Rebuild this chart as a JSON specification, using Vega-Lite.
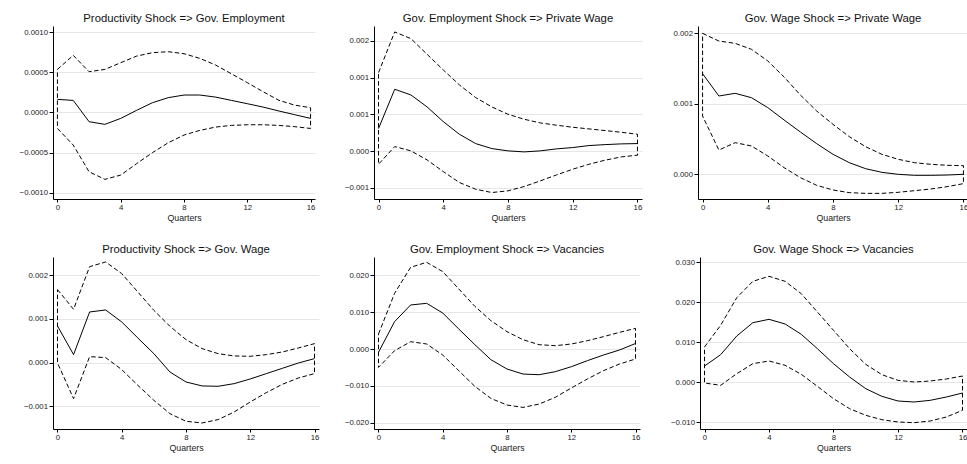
{
  "$schema": "https://vega.github.io/schema/vega-lite/v6.json",
  "padding": {"left": 0, "top": 12, "right": 0, "bottom": 0},
  "background": "white",
  "datasets": {
    "irf": [
      {"panel": "p1", "q": 0, "irf": 0.000162, "lo": -0.0002, "hi": 0.000535},
      {"panel": "p1", "q": 1, "irf": 0.000149, "lo": -0.000407, "hi": 0.00071},
      {"panel": "p1", "q": 2, "irf": -0.000116, "lo": -0.000739, "hi": 0.000506},
      {"panel": "p1", "q": 3, "irf": -0.000149, "lo": -0.000834, "hi": 0.000535},
      {"panel": "p1", "q": 4, "irf": -0.000075, "lo": -0.00078, "hi": 0.000618},
      {"panel": "p1", "q": 5, "irf": 0.000025, "lo": -0.000639, "hi": 0.0007},
      {"panel": "p1", "q": 6, "irf": 0.00012, "lo": -0.000502, "hi": 0.000743},
      {"panel": "p1", "q": 7, "irf": 0.000183, "lo": -0.000378, "hi": 0.000755},
      {"panel": "p1", "q": 8, "irf": 0.000216, "lo": -0.000282, "hi": 0.00073},
      {"panel": "p1", "q": 9, "irf": 0.000216, "lo": -0.000224, "hi": 0.000672},
      {"panel": "p1", "q": 10, "irf": 0.00019, "lo": -0.000183, "hi": 0.000589},
      {"panel": "p1", "q": 11, "irf": 0.000149, "lo": -0.000162, "hi": 0.00048},
      {"panel": "p1", "q": 12, "irf": 0.000108, "lo": -0.000154, "hi": 0.00037},
      {"panel": "p1", "q": 13, "irf": 0.000066, "lo": -0.000154, "hi": 0.000257},
      {"panel": "p1", "q": 14, "irf": 0.000017, "lo": -0.000162, "hi": 0.00015},
      {"panel": "p1", "q": 15, "irf": -0.000029, "lo": -0.000178, "hi": 0.00009},
      {"panel": "p1", "q": 16, "irf": -0.000075, "lo": -0.0002, "hi": 0.000058},

      {"panel": "p2", "q": 0, "irf": 0.000308, "lo": -0.000177, "hi": 0.00107},
      {"panel": "p2", "q": 1, "irf": 0.000843, "lo": 0.000063, "hi": 0.001623},
      {"panel": "p2", "q": 2, "irf": 0.000766, "lo": 0.000005, "hi": 0.001532},
      {"panel": "p2", "q": 3, "irf": 0.000603, "lo": -0.000118, "hi": 0.001319},
      {"panel": "p2", "q": 4, "irf": 0.000403, "lo": -0.000277, "hi": 0.001106},
      {"panel": "p2", "q": 5, "irf": 0.000231, "lo": -0.000426, "hi": 0.000902},
      {"panel": "p2", "q": 6, "irf": 0.000104, "lo": -0.000517, "hi": 0.00073},
      {"panel": "p2", "q": 7, "irf": 0.000036, "lo": -0.000562, "hi": 0.000603},
      {"panel": "p2", "q": 8, "irf": 0.000005, "lo": -0.000539, "hi": 0.000503},
      {"panel": "p2", "q": 9, "irf": -0.000009, "lo": -0.00048, "hi": 0.000435},
      {"panel": "p2", "q": 10, "irf": 0.000005, "lo": -0.000403, "hi": 0.000385},
      {"panel": "p2", "q": 11, "irf": 0.000032, "lo": -0.000322, "hi": 0.000354},
      {"panel": "p2", "q": 12, "irf": 0.00005, "lo": -0.000245, "hi": 0.000326},
      {"panel": "p2", "q": 13, "irf": 0.000077, "lo": -0.000177, "hi": 0.000304},
      {"panel": "p2", "q": 14, "irf": 0.00009, "lo": -0.000122, "hi": 0.000281},
      {"panel": "p2", "q": 15, "irf": 0.0001, "lo": -0.000077, "hi": 0.000258},
      {"panel": "p2", "q": 16, "irf": 0.000104, "lo": -0.000054, "hi": 0.000231},

      {"panel": "p3", "q": 0, "irf": 0.001428, "lo": 0.000827, "hi": 0.002},
      {"panel": "p3", "q": 1, "irf": 0.001111, "lo": 0.000345, "hi": 0.001891},
      {"panel": "p3", "q": 2, "irf": 0.001149, "lo": 0.000449, "hi": 0.001858},
      {"panel": "p3", "q": 3, "irf": 0.001087, "lo": 0.000402, "hi": 0.001773},
      {"panel": "p3", "q": 4, "irf": 0.000946, "lo": 0.00026, "hi": 0.001608},
      {"panel": "p3", "q": 5, "irf": 0.000771, "lo": 0.000095, "hi": 0.001381},
      {"panel": "p3", "q": 6, "irf": 0.0006, "lo": -0.000047, "hi": 0.001125},
      {"panel": "p3", "q": 7, "irf": 0.000435, "lo": -0.000156, "hi": 0.000898},
      {"panel": "p3", "q": 8, "irf": 0.000284, "lo": -0.000222, "hi": 0.000709},
      {"panel": "p3", "q": 9, "irf": 0.000165, "lo": -0.00026, "hi": 0.000534},
      {"panel": "p3", "q": 10, "irf": 0.00008, "lo": -0.00027, "hi": 0.000392},
      {"panel": "p3", "q": 11, "irf": 0.000028, "lo": -0.00027, "hi": 0.000284},
      {"panel": "p3", "q": 12, "irf": 0.0, "lo": -0.000255, "hi": 0.000213},
      {"panel": "p3", "q": 13, "irf": -0.000014, "lo": -0.000232, "hi": 0.000165},
      {"panel": "p3", "q": 14, "irf": -0.000014, "lo": -0.000208, "hi": 0.000142},
      {"panel": "p3", "q": 15, "irf": -0.00001, "lo": -0.000175, "hi": 0.000128},
      {"panel": "p3", "q": 16, "irf": 0.0, "lo": -0.000132, "hi": 0.000123},

      {"panel": "p4", "q": 0, "irf": 0.00084, "lo": -0.000008, "hi": 0.001672},
      {"panel": "p4", "q": 1, "irf": 0.000183, "lo": -0.000824, "hi": 0.001221},
      {"panel": "p4", "q": 2, "irf": 0.00116, "lo": 0.000137, "hi": 0.002198},
      {"panel": "p4", "q": 3, "irf": 0.001206, "lo": 0.000115, "hi": 0.002305},
      {"panel": "p4", "q": 4, "irf": 0.000931, "lo": -0.00016, "hi": 0.002038},
      {"panel": "p4", "q": 5, "irf": 0.000565, "lo": -0.000519, "hi": 0.001618},
      {"panel": "p4", "q": 6, "irf": 0.000206, "lo": -0.000863, "hi": 0.001198},
      {"panel": "p4", "q": 7, "irf": -0.000214, "lo": -0.001168, "hi": 0.000832},
      {"panel": "p4", "q": 8, "irf": -0.000443, "lo": -0.001344, "hi": 0.000527},
      {"panel": "p4", "q": 9, "irf": -0.000534, "lo": -0.001382, "hi": 0.000321},
      {"panel": "p4", "q": 10, "irf": -0.000542, "lo": -0.001305, "hi": 0.000206},
      {"panel": "p4", "q": 11, "irf": -0.000481, "lo": -0.00113, "hi": 0.000153},
      {"panel": "p4", "q": 12, "irf": -0.000374, "lo": -0.000901, "hi": 0.000145},
      {"panel": "p4", "q": 13, "irf": -0.000252, "lo": -0.000687, "hi": 0.000183},
      {"panel": "p4", "q": 14, "irf": -0.00013, "lo": -0.000496, "hi": 0.000244},
      {"panel": "p4", "q": 15, "irf": -0.000008, "lo": -0.000351, "hi": 0.000336},
      {"panel": "p4", "q": 16, "irf": 0.000092, "lo": -0.000252, "hi": 0.000435},

      {"panel": "p5", "q": 0, "irf": -0.0009, "lo": -0.00498, "hi": 0.00407},
      {"panel": "p5", "q": 1, "irf": 0.00742, "lo": -0.00045, "hi": 0.0151},
      {"panel": "p5", "q": 2, "irf": 0.01195, "lo": 0.00199, "hi": 0.02217},
      {"panel": "p5", "q": 3, "irf": 0.0124, "lo": 0.00136, "hi": 0.02353},
      {"panel": "p5", "q": 4, "irf": 0.00977, "lo": -0.00163, "hi": 0.021},
      {"panel": "p5", "q": 5, "irf": 0.00543, "lo": -0.00588, "hi": 0.01629},
      {"panel": "p5", "q": 6, "irf": 0.00118, "lo": -0.01014, "hi": 0.01158},
      {"panel": "p5", "q": 7, "irf": -0.0029, "lo": -0.0134, "hi": 0.00769},
      {"panel": "p5", "q": 8, "irf": -0.00543, "lo": -0.0152, "hi": 0.00471},
      {"panel": "p5", "q": 9, "irf": -0.00679, "lo": -0.01584, "hi": 0.00253},
      {"panel": "p5", "q": 10, "irf": -0.00697, "lo": -0.01493, "hi": 0.00118},
      {"panel": "p5", "q": 11, "irf": -0.00615, "lo": -0.01312, "hi": 0.0009},
      {"panel": "p5", "q": 12, "irf": -0.0048, "lo": -0.01059, "hi": 0.00136},
      {"panel": "p5", "q": 13, "irf": -0.00317, "lo": -0.00814, "hi": 0.00226},
      {"panel": "p5", "q": 14, "irf": -0.00163, "lo": -0.00588, "hi": 0.00335},
      {"panel": "p5", "q": 15, "irf": -0.00027, "lo": -0.00407, "hi": 0.00452},
      {"panel": "p5", "q": 16, "irf": 0.0015, "lo": -0.00271, "hi": 0.00561},

      {"panel": "p6", "q": 0, "irf": 0.004, "lo": -0.00025, "hi": 0.00875},
      {"panel": "p6", "q": 1, "irf": 0.00683, "lo": -0.00083, "hi": 0.01417},
      {"panel": "p6", "q": 2, "irf": 0.0115, "lo": 0.00208, "hi": 0.02108},
      {"panel": "p6", "q": 3, "irf": 0.01483, "lo": 0.00458, "hi": 0.02517},
      {"panel": "p6", "q": 4, "irf": 0.01567, "lo": 0.00525, "hi": 0.02642},
      {"panel": "p6", "q": 5, "irf": 0.0145, "lo": 0.00417, "hi": 0.02517},
      {"panel": "p6", "q": 6, "irf": 0.01192, "lo": 0.00192, "hi": 0.02208},
      {"panel": "p6", "q": 7, "irf": 0.00833, "lo": -0.00108, "hi": 0.0175},
      {"panel": "p6", "q": 8, "irf": 0.00458, "lo": -0.00417, "hi": 0.01292},
      {"panel": "p6", "q": 9, "irf": 0.00125, "lo": -0.00667, "hi": 0.00833},
      {"panel": "p6", "q": 10, "irf": -0.00167, "lo": -0.00833, "hi": 0.00442},
      {"panel": "p6", "q": 11, "irf": -0.00358, "lo": -0.00942, "hi": 0.00183},
      {"panel": "p6", "q": 12, "irf": -0.00475, "lo": -0.01, "hi": 0.00042},
      {"panel": "p6", "q": 13, "irf": -0.005, "lo": -0.01017, "hi": 0.0},
      {"panel": "p6", "q": 14, "irf": -0.00458, "lo": -0.00975, "hi": 0.00025},
      {"panel": "p6", "q": 15, "irf": -0.00375, "lo": -0.00875, "hi": 0.00075},
      {"panel": "p6", "q": 16, "irf": -0.00275, "lo": -0.00708, "hi": 0.0015}
    ]
  },
  "data": {"name": "irf"},
  "spacing": 20,
  "vconcat": [
    {
      "spacing": 0,
      "hconcat": [
        {
          "width": 262, "height": 173,
          "title": "Productivity Shock => Gov. Employment",
          "transform": [{"filter": "datum.panel === 'p1'"}],
          "encoding": {"x": {"field": "q", "type": "quantitative", "scale": {"domain": [-0.28, 16.28], "nice": false, "zero": false}, "axis": {"values": [0, 4, 8, 12, 16], "title": "Quarters"}}},
          "layer": [
            {"mark": {"type": "area", "fill": "transparent", "stroke": "black", "strokeWidth": 1, "strokeDash": [4.5, 2.5]},
             "encoding": {"y": {"field": "hi", "type": "quantitative", "scale": {"domain": [-0.001078, 0.001075], "nice": false, "zero": false}, "axis": {"values": [-0.001, -0.0005, 0, 0.0005, 0.001], "format": ".4f", "title": null, "minExtent": 53}}, "y2": {"field": "lo"}}},
            {"mark": {"type": "line", "color": "black", "strokeWidth": 1},
             "encoding": {"y": {"field": "irf", "type": "quantitative", "axis": {"values": [-0.001, -0.0005, 0, 0.0005, 0.001], "format": ".4f", "title": null, "minExtent": 53}}}}
          ]
        },
        {
          "width": 268, "height": 173,
          "title": "Gov. Employment Shock => Private Wage",
          "transform": [{"filter": "datum.panel === 'p2'"}],
          "encoding": {"x": {"field": "q", "type": "quantitative", "scale": {"domain": [-0.28, 16.28], "nice": false, "zero": false}, "axis": {"values": [0, 4, 8, 12, 16], "title": "Quarters"}}},
          "layer": [
            {"mark": {"type": "area", "fill": "transparent", "stroke": "black", "strokeWidth": 1, "strokeDash": [4.5, 2.5]},
             "encoding": {"y": {"field": "hi", "type": "quantitative", "scale": {"domain": [-0.00065, 0.001704], "nice": false, "zero": false}, "axis": {"values": [-0.0005, 0, 0.0005, 0.001, 0.0015], "labelExpr": "format(datum.value + (datum.value < 0 ? -1e-9 : 1e-9), '.3f')", "title": null, "minExtent": 59}}, "y2": {"field": "lo"}}},
            {"mark": {"type": "line", "color": "black", "strokeWidth": 1},
             "encoding": {"y": {"field": "irf", "type": "quantitative", "axis": {"values": [-0.0005, 0, 0.0005, 0.001, 0.0015], "labelExpr": "format(datum.value + (datum.value < 0 ? -1e-9 : 1e-9), '.3f')", "title": null, "minExtent": 59}}}}
          ]
        },
        {
          "width": 270, "height": 173,
          "title": "Gov. Wage Shock => Private Wage",
          "transform": [{"filter": "datum.panel === 'p3'"}],
          "encoding": {"x": {"field": "q", "type": "quantitative", "scale": {"domain": [-0.28, 16.28], "nice": false, "zero": false}, "axis": {"values": [0, 4, 8, 12, 16], "title": "Quarters"}}},
          "layer": [
            {"mark": {"type": "area", "fill": "transparent", "stroke": "black", "strokeWidth": 1, "strokeDash": [4.5, 2.5]},
             "encoding": {"y": {"field": "hi", "type": "quantitative", "scale": {"domain": [-0.00035, 0.002104], "nice": false, "zero": false}, "axis": {"values": [0, 0.001, 0.002], "format": ".3f", "title": null, "minExtent": 56}}, "y2": {"field": "lo"}}},
            {"mark": {"type": "line", "color": "black", "strokeWidth": 1},
             "encoding": {"y": {"field": "irf", "type": "quantitative", "axis": {"values": [0, 0.001, 0.002], "format": ".3f", "title": null, "minExtent": 56}}}}
          ]
        }
      ]
    },
    {
      "spacing": 0,
      "hconcat": [
        {
          "width": 266, "height": 172,
          "title": "Productivity Shock => Gov. Wage",
          "transform": [{"filter": "datum.panel === 'p4'"}],
          "encoding": {"x": {"field": "q", "type": "quantitative", "scale": {"domain": [-0.28, 16.28], "nice": false, "zero": false}, "axis": {"values": [0, 4, 8, 12, 16], "title": "Quarters"}}},
          "layer": [
            {"mark": {"type": "area", "fill": "transparent", "stroke": "black", "strokeWidth": 1, "strokeDash": [4.5, 2.5]},
             "encoding": {"y": {"field": "hi", "type": "quantitative", "scale": {"domain": [-0.00152, 0.002419], "nice": false, "zero": false}, "axis": {"values": [-0.001, 0, 0.001, 0.002], "format": ".3f", "title": null, "minExtent": 49}}, "y2": {"field": "lo"}}},
            {"mark": {"type": "line", "color": "black", "strokeWidth": 1},
             "encoding": {"y": {"field": "irf", "type": "quantitative", "axis": {"values": [-0.001, 0, 0.001, 0.002], "format": ".3f", "title": null, "minExtent": 49}}}}
          ]
        },
        {
          "width": 266, "height": 172,
          "title": "Gov. Employment Shock => Vacancies",
          "transform": [{"filter": "datum.panel === 'p5'"}],
          "encoding": {"x": {"field": "q", "type": "quantitative", "scale": {"domain": [-0.28, 16.28], "nice": false, "zero": false}, "axis": {"values": [0, 4, 8, 12, 16], "title": "Quarters"}}},
          "layer": [
            {"mark": {"type": "area", "fill": "transparent", "stroke": "black", "strokeWidth": 1, "strokeDash": [4.5, 2.5]},
             "encoding": {"y": {"field": "hi", "type": "quantitative", "scale": {"domain": [-0.0217, 0.02497], "nice": false, "zero": false}, "axis": {"values": [-0.02, -0.01, 0, 0.01, 0.02], "format": ".3f", "title": null, "minExtent": 55}}, "y2": {"field": "lo"}}},
            {"mark": {"type": "line", "color": "black", "strokeWidth": 1},
             "encoding": {"y": {"field": "irf", "type": "quantitative", "axis": {"values": [-0.02, -0.01, 0, 0.01, 0.02], "format": ".3f", "title": null, "minExtent": 55}}}}
          ]
        },
        {
          "width": 267, "height": 172,
          "title": "Gov. Wage Shock => Vacancies",
          "transform": [{"filter": "datum.panel === 'p6'"}],
          "encoding": {"x": {"field": "q", "type": "quantitative", "scale": {"domain": [-0.28, 16.28], "nice": false, "zero": false}, "axis": {"values": [0, 4, 8, 12, 16], "title": "Quarters"}}},
          "layer": [
            {"mark": {"type": "area", "fill": "transparent", "stroke": "black", "strokeWidth": 1, "strokeDash": [4.5, 2.5]},
             "encoding": {"y": {"field": "hi", "type": "quantitative", "scale": {"domain": [-0.01175, 0.03125], "nice": false, "zero": false}, "axis": {"values": [-0.01, 0, 0.01, 0.02, 0.03], "format": ".3f", "title": null, "minExtent": 60}}, "y2": {"field": "lo"}}},
            {"mark": {"type": "line", "color": "black", "strokeWidth": 1},
             "encoding": {"y": {"field": "irf", "type": "quantitative", "axis": {"values": [-0.01, 0, 0.01, 0.02, 0.03], "format": ".3f", "title": null, "minExtent": 60}}}}
          ]
        }
      ]
    }
  ],
  "config": {
    "font": "Liberation Sans",
    "view": {"stroke": null},
    "axis": {
      "domainColor": "black", "domainWidth": 1,
      "tickColor": "black", "tickWidth": 1,
      "labelFont": "Liberation Sans", "labelFontSize": 7.8, "labelColor": "#222",
      "titleFont": "Liberation Sans", "titleFontSize": 8.8, "titleFontWeight": "normal", "titleColor": "#222",
      "gridColor": "#e6e6e6", "gridWidth": 1
    },
    "axisX": {"grid": false, "tickSize": 3, "labelPadding": 1, "titlePadding": 3},
    "axisY": {"grid": true, "tickSize": 4, "labelPadding": 1.5},
    "title": {"font": "Liberation Sans", "fontSize": 11.3, "fontWeight": "normal", "color": "#111", "frame": "group", "anchor": "middle", "offset": 2}
  }
}
